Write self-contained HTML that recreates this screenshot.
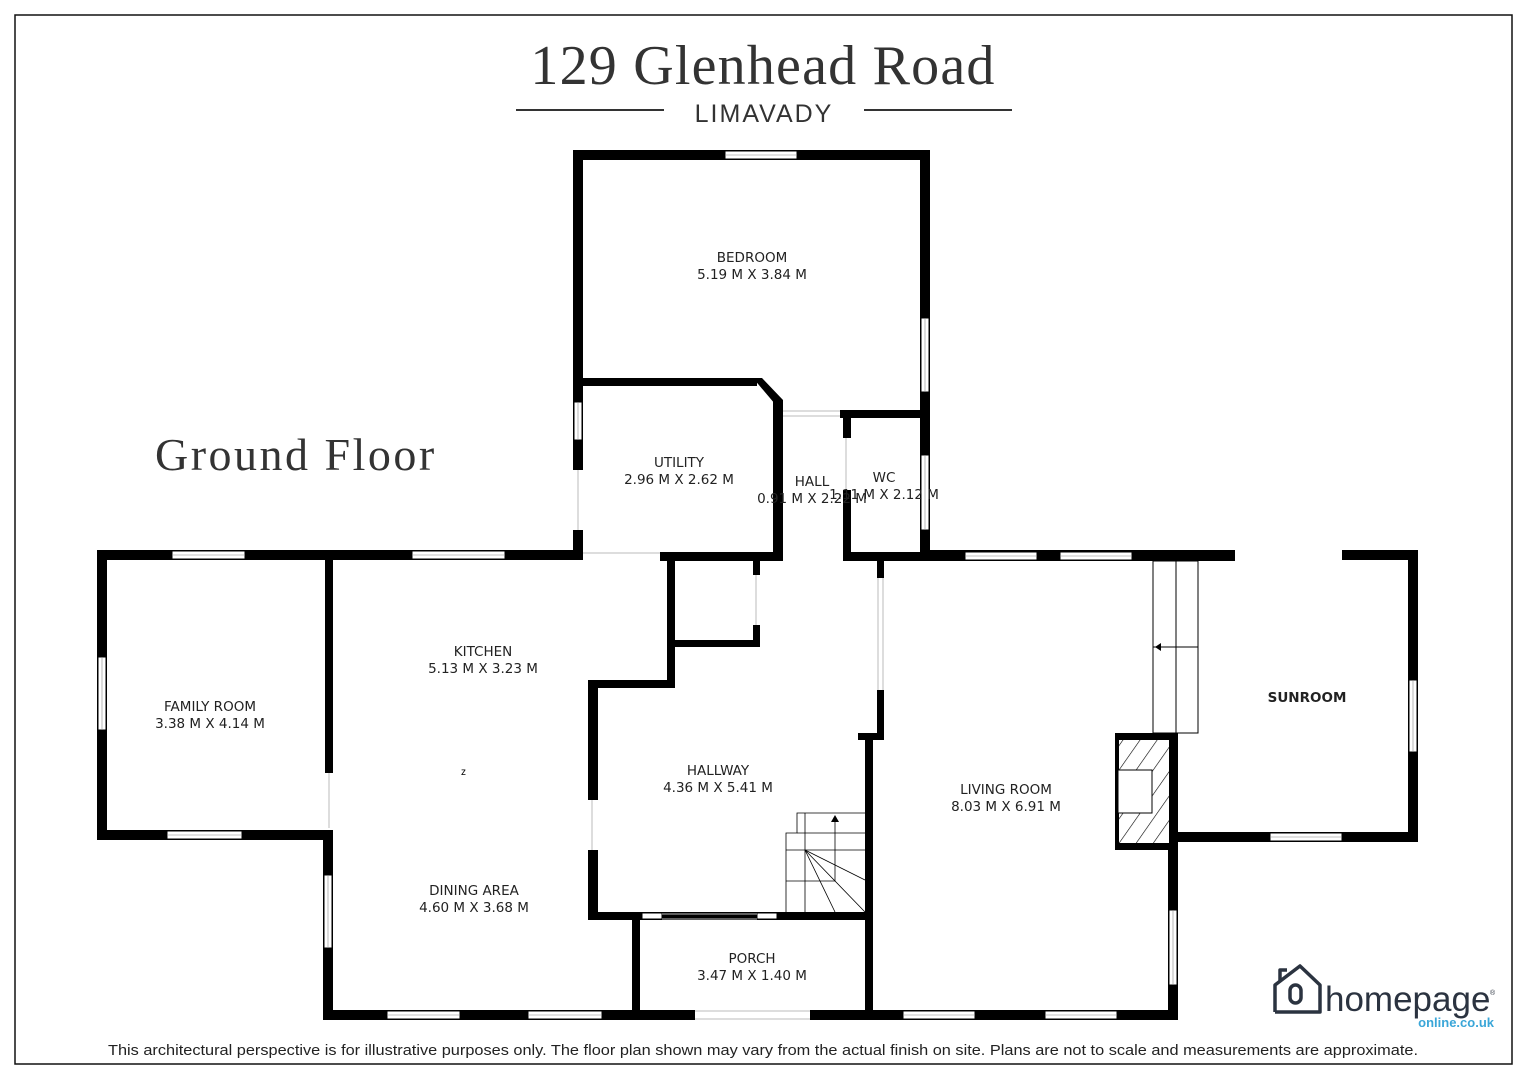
<!DOCTYPE html>
<html><head><meta charset="utf-8"><style>
html,body{margin:0;padding:0;background:#fff;}
svg{display:block}
.t{font-family:"DejaVu Sans","Liberation Sans",sans-serif;font-size:13.5px;fill:#222;text-anchor:middle}
</style></head><body>
<svg width="1527" height="1080" viewBox="0 0 1527 1080" xmlns="http://www.w3.org/2000/svg">
<rect x="15" y="15" width="1497" height="1049" fill="none" stroke="#111" stroke-width="1.5"/>
<text x="763" y="84" font-family="Liberation Serif,serif" font-size="56" fill="#333" text-anchor="middle" letter-spacing="1.2">129 Glenhead Road</text>
<line x1="516" y1="110" x2="664" y2="110" stroke="#333" stroke-width="2"/>
<line x1="864" y1="110" x2="1012" y2="110" stroke="#333" stroke-width="2"/>
<text x="764" y="122" font-family="Liberation Sans,sans-serif" font-size="25" fill="#333" text-anchor="middle" letter-spacing="2">LIMAVADY</text>
<text x="155" y="470" font-family="Liberation Serif,serif" font-size="46" fill="#333" letter-spacing="2.5">Ground Floor</text>

<g fill="#000">
<rect x="573" y="150" width="357" height="10"/>
<rect x="573" y="150" width="10" height="290"/>
<rect x="573" y="440" width="10" height="30"/>
<rect x="573" y="530" width="10" height="28"/>
<rect x="920" y="150" width="10" height="410"/>
<rect x="583" y="378" width="174" height="8"/>
<polygon points="753,378 762,378 783,400 783,408 775,408 775,404"/>
<rect x="773" y="400" width="10" height="161"/>
<rect x="660" y="552" width="123" height="9"/>
<rect x="840" y="410" width="90" height="8"/>
<rect x="843" y="410" width="8" height="28"/>
<rect x="843" y="490" width="8" height="71"/>
<rect x="843" y="552" width="87" height="9"/>
<rect x="920" y="550" width="315" height="11"/>
<rect x="1342" y="550" width="76" height="10"/>
<rect x="1408" y="550" width="10" height="292"/>
<rect x="1175" y="832" width="243" height="10"/>
<rect x="1115" y="733" width="63" height="117"/>
<rect x="1168" y="842" width="10" height="178"/>
<rect x="865" y="1010" width="313" height="10"/>
<rect x="877" y="561" width="7" height="17"/>
<rect x="877" y="690" width="7" height="50"/>
<rect x="858" y="733" width="26" height="7"/>
<rect x="865" y="733" width="8" height="287"/>
<rect x="588" y="680" width="10" height="120"/>
<rect x="588" y="850" width="10" height="70"/>
<rect x="588" y="680" width="87" height="8"/>
<rect x="667" y="555" width="8" height="133"/>
<rect x="667" y="640" width="93" height="7"/>
<rect x="753" y="561" width="7" height="14"/>
<rect x="753" y="625" width="7" height="22"/>
<rect x="588" y="912" width="282" height="8"/>
<rect x="632" y="920" width="8" height="100"/>
<rect x="632" y="1010" width="63" height="10"/>
<rect x="810" y="1010" width="60" height="10"/>
<rect x="97" y="550" width="486" height="10"/>
<rect x="97" y="550" width="10" height="290"/>
<rect x="97" y="830" width="236" height="10"/>
<rect x="325" y="560" width="8" height="213"/>
<rect x="323" y="830" width="10" height="190"/>
<rect x="323" y="1010" width="317" height="10"/>
</g>
<defs><pattern id="h" width="14" height="14" patternUnits="userSpaceOnUse" patternTransform="rotate(35)"><rect width="14" height="14" fill="#fff"/><line x1="0" y1="0" x2="0" y2="14" stroke="#000" stroke-width="1.2"/></pattern></defs>
<rect x="1119" y="740" width="50" height="103" fill="url(#h)"/>
<rect x="1118" y="770" width="34" height="43" fill="#fff" stroke="#000" stroke-width="1"/>
<g fill="none" stroke="#000" stroke-width="1">
<rect x="1153" y="561" width="45" height="172"/>
<line x1="1176" y1="561" x2="1176" y2="733"/>
<line x1="1153" y1="647" x2="1198" y2="647"/>
</g>
<g fill="#fff" stroke="#000" stroke-width="1">
<rect x="725" y="151" width="72" height="8"/>
<rect x="921" y="318" width="8" height="74"/>
<rect x="921" y="455" width="8" height="75"/>
<rect x="574" y="402" width="8" height="38"/>
<rect x="965" y="552" width="72" height="8"/>
<rect x="1060" y="552" width="72" height="8"/>
<rect x="1409" y="680" width="8" height="72"/>
<rect x="1270" y="833" width="72" height="8"/>
<rect x="1169" y="910" width="8" height="75"/>
<rect x="903" y="1011" width="72" height="8"/>
<rect x="1045" y="1011" width="72" height="8"/>
<rect x="172" y="551" width="73" height="8"/>
<rect x="412" y="551" width="93" height="8"/>
<rect x="98" y="657" width="8" height="73"/>
<rect x="167" y="831" width="75" height="8"/>
<rect x="324" y="875" width="8" height="73"/>
<rect x="387" y="1011" width="73" height="8"/>
<rect x="528" y="1011" width="74" height="8"/>
<rect x="642" y="913" width="20" height="6"/>
<rect x="757" y="913" width="20" height="6"/>
</g>
<g stroke="#888" stroke-width="0.6">
<line x1="725" y1="155" x2="797" y2="155"/><line x1="925" y1="318" x2="925" y2="392"/><line x1="925" y1="455" x2="925" y2="530"/>
<line x1="578" y1="402" x2="578" y2="440"/><line x1="965" y1="556" x2="1037" y2="556"/><line x1="1060" y1="556" x2="1132" y2="556"/>
<line x1="1413" y1="680" x2="1413" y2="752"/><line x1="1270" y1="837" x2="1342" y2="837"/><line x1="1173" y1="910" x2="1173" y2="985"/>
<line x1="903" y1="1015" x2="975" y2="1015"/><line x1="1045" y1="1015" x2="1117" y2="1015"/><line x1="172" y1="555" x2="245" y2="555"/>
<line x1="412" y1="555" x2="505" y2="555"/><line x1="102" y1="657" x2="102" y2="730"/><line x1="167" y1="835" x2="242" y2="835"/>
<line x1="328" y1="875" x2="328" y2="948"/><line x1="387" y1="1015" x2="460" y2="1015"/><line x1="528" y1="1015" x2="602" y2="1015"/>
</g>
<g stroke="#bbb" stroke-width="1" fill="none">
<line x1="783" y1="411" x2="840" y2="411"/><line x1="783" y1="416" x2="840" y2="416"/>
<line x1="583" y1="553" x2="660" y2="553"/>
<line x1="578" y1="470" x2="578" y2="530"/>
<line x1="878" y1="578" x2="878" y2="690"/><line x1="883" y1="578" x2="883" y2="690"/>
<line x1="756" y1="575" x2="756" y2="625"/>
<line x1="592" y1="800" x2="592" y2="850"/>
<line x1="662" y1="914" x2="757" y2="914"/><line x1="662" y1="919" x2="757" y2="919"/>
<line x1="695" y1="1011" x2="810" y2="1011"/><line x1="695" y1="1019" x2="810" y2="1019"/>
<line x1="329" y1="773" x2="329" y2="828"/>
<line x1="846" y1="438" x2="846" y2="490"/>
</g>
<g stroke="#000" stroke-width="0.8" fill="none">
<polyline points="865,813 797,813 797,833 786,833 786,912"/>
<line x1="797" y1="833" x2="865" y2="833"/>
<line x1="786" y1="850" x2="865" y2="850"/>
<line x1="786" y1="881" x2="835" y2="881"/>
<line x1="805" y1="813" x2="805" y2="912"/>
<line x1="835" y1="820" x2="835" y2="881"/>
<line x1="805" y1="850" x2="865" y2="880"/>
<line x1="805" y1="850" x2="865" y2="912"/>
<line x1="805" y1="850" x2="835" y2="912"/>
</g>
<polygon points="835,815 831,822 839,822" fill="#000"/>
<polygon points="1155,647 1161,643 1161,651" fill="#000"/>
<text class="t" x="752" y="262">BEDROOM</text><text class="t" x="752" y="279">5.19 M X 3.84 M</text>
<text class="t" x="679" y="467">UTILITY</text><text class="t" x="679" y="484">2.96 M X 2.62 M</text>
<text class="t" x="812" y="486">HALL</text><text class="t" x="812" y="503">0.91 M X 2.22 M</text>
<text class="t" x="884" y="482">WC</text><text class="t" x="884" y="499">1.11 M X 2.12 M</text>
<text class="t" x="483" y="656">KITCHEN</text><text class="t" x="483" y="673">5.13 M X 3.23 M</text>
<text class="t" x="210" y="711">FAMILY ROOM</text><text class="t" x="210" y="728">3.38 M X 4.14 M</text>
<text class="t" x="718" y="775">HALLWAY</text><text class="t" x="718" y="792">4.36 M X 5.41 M</text>
<text class="t" x="1006" y="794">LIVING ROOM</text><text class="t" x="1006" y="811">8.03 M X 6.91 M</text>
<text class="t" x="474" y="895">DINING AREA</text><text class="t" x="474" y="912">4.60 M X 3.68 M</text>
<text class="t" x="752" y="963">PORCH</text><text class="t" x="752" y="980">3.47 M X 1.40 M</text>
<text class="t" x="1307" y="702" font-weight="bold" font-family="Liberation Sans,sans-serif" font-size="14">SUNROOM</text>
<text x="461" y="775" font-size="10" font-family="Liberation Sans,sans-serif">z</text>
<g fill="none" stroke="#2b3340" stroke-width="3.5" stroke-linejoin="round">
<polyline points="1275,1012 1275,985 1300,966 1320,985 1320,1012 1275,1012"/>
<polyline points="1280,981 1280,970 1287,970"/>
<rect x="1290" y="985" width="11" height="18" rx="5.5"/>
</g>
<text x="1325" y="1011" font-family="Liberation Sans,sans-serif" font-size="35" fill="#2b3340">homepage</text>
<text x="1490" y="995" font-family="Liberation Sans,sans-serif" font-size="7" fill="#2b3340">®</text>
<text x="1494" y="1027" font-family="Liberation Sans,sans-serif" font-size="13" font-weight="bold" fill="#3aa6d8" text-anchor="end">online.co.uk</text>
<text x="763" y="1055" font-family="Liberation Sans,sans-serif" font-size="15" fill="#222" text-anchor="middle" textLength="1310" lengthAdjust="spacingAndGlyphs">This architectural perspective is for illustrative purposes only. The floor plan shown may vary from the actual finish on site. Plans are not to scale and measurements are approximate.</text>
</svg>
</body></html>
